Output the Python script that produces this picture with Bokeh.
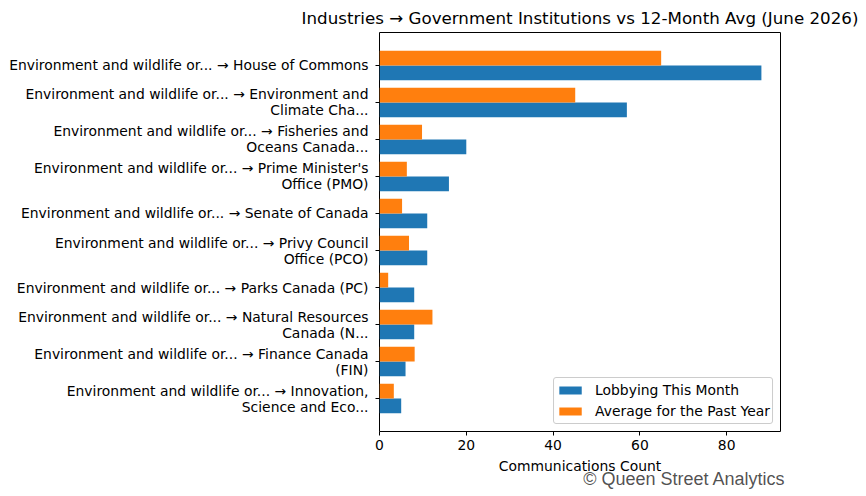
from bokeh.plotting import figure
from bokeh.models import Range1d, FixedTicker, Label, Legend, LegendItem, ColumnDataSource
from bokeh.embed import file_html
from bokeh.resources import INLINE

labels = [
    "Environment and wildlife or... \u2192 House of Commons",
    "Environment and wildlife or... \u2192 Environment and\nClimate Cha...",
    "Environment and wildlife or... \u2192 Fisheries and\nOceans Canada...",
    "Environment and wildlife or... \u2192 Prime Minister's\nOffice (PMO)",
    "Environment and wildlife or... \u2192 Senate of Canada",
    "Environment and wildlife or... \u2192 Privy Council\nOffice (PCO)",
    "Environment and wildlife or... \u2192 Parks Canada (PC)",
    "Environment and wildlife or... \u2192 Natural Resources\nCanada (N...",
    "Environment and wildlife or... \u2192 Finance Canada\n(FIN)",
    "Environment and wildlife or... \u2192 Innovation,\nScience and Eco...",
]
this_month = [88, 57, 20, 16, 11, 11, 8, 8, 6, 5]
avg_past_year = [64.9, 45.1, 9.8, 6.3, 5.2, 6.8, 2.0, 12.2, 8.1, 3.3]
x_ticks = [0, 20, 40, 60, 80]

FONT = "DejaVu Sans"
BLUE = "#1f77b4"
ORANGE = "#ff7f0e"

idx = list(range(len(labels)))
src = ColumnDataSource(dict(
    y_blue=[i + 0.2 for i in idx],
    y_orange=[i - 0.2 for i in idx],
    this_month=this_month,
    avg=avg_past_year,
))

n = len(labels)
p = figure(
    width=866, height=496, output_backend="svg", toolbar_location=None,
    x_range=Range1d(0, max(this_month) * 1.05),
    y_range=Range1d(n - 1 + 0.4 + 0.49, -0.4 - 0.49),
    min_border_left=379, min_border_right=86, min_border_top=32, min_border_bottom=60,
)

r1 = p.hbar(y="y_blue", right="this_month", left=0, height=0.4, source=src,
            fill_color=BLUE, line_color=None)
r2 = p.hbar(y="y_orange", right="avg", left=0, height=0.4, source=src,
            fill_color=ORANGE, line_color=None)

p.title.text = "Industries \u2192 Government Institutions vs 12-Month Avg (June 2026)"
p.title.text_font = FONT
p.title.text_font_size = "16.7px"
p.title.text_font_style = "normal"
p.title.align = "center"
p.title.text_color = "black"

p.xgrid.visible = False
p.ygrid.visible = False
p.outline_line_color = "black"
p.outline_line_width = 1
p.outline_line_alpha = 1

xa = p.xaxis[0]
xa.ticker = FixedTicker(ticks=x_ticks)
xa.axis_label = "Communications Count"
xa.axis_label_text_font = FONT
xa.axis_label_text_font_size = "13.9px"
xa.axis_label_text_font_style = "normal"
xa.axis_label_text_color = "black"
xa.axis_label_text_line_height = 0.7
xa.major_label_text_font = FONT
xa.major_label_text_font_size = "13.9px"
xa.major_label_text_color = "black"
xa.major_tick_out = 4
xa.major_tick_in = 0
xa.minor_tick_out = 0
xa.minor_tick_in = 0
xa.axis_line_color = None
xa.major_label_standoff = 4
xa.axis_label_standoff = 5

ya = p.yaxis[0]
ya.ticker = FixedTicker(ticks=idx)
ya.major_label_overrides = {i: lab for i, lab in zip(idx, labels)}
ya.major_label_text_font = FONT
ya.major_label_text_font_size = "13.9px"
ya.major_label_text_color = "black"
ya.major_label_text_line_height = 1.0
ya.major_tick_out = 4
ya.major_tick_in = 0
ya.minor_tick_out = 0
ya.minor_tick_in = 0
ya.axis_line_color = None
ya.major_label_standoff = 7

legend = Legend(items=[
    LegendItem(label="Lobbying This Month", renderers=[r1]),
    LegendItem(label="Average for the Past Year", renderers=[r2]),
], location="bottom_right")
legend.label_text_font = FONT
legend.label_text_font_size = "13.9px"
legend.label_text_color = "black"
legend.glyph_width = 28
legend.glyph_height = 10
legend.label_height = 20
legend.label_standoff = 11
legend.spacing = 1
legend.padding = 2
legend.margin = 7
legend.border_line_color = "#cccccc"
legend.border_line_alpha = 1
legend.border_radius = 3
legend.background_fill_alpha = 0.8
p.add_layout(legend)

wm = Label(x=406, y=18, x_units="screen", y_units="screen",
           text="\u00a9 Queen Street Analytics", text_align="right",
           text_baseline="alphabetic", text_font="Liberation Sans",
           text_font_size="18px",
           text_color="#333333", text_alpha=0.85)
p.add_layout(wm, "below")

open("out.html", "w").write(file_html(p, INLINE))
